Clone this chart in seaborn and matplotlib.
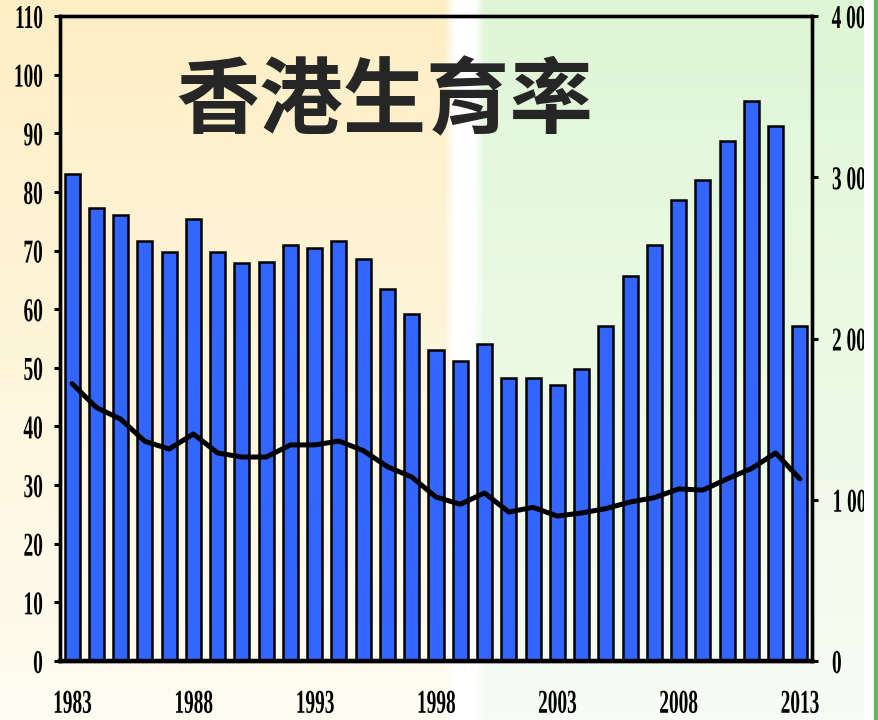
import numpy as np
import pandas as pd
import seaborn as sns
import matplotlib.pyplot as plt
from matplotlib import patheffects as pe
from matplotlib.patches import Rectangle
from matplotlib.transforms import Affine2D

# ---------------------------------------------------------------------------
# Data: Hong Kong live births (thousands, left axis) and total fertility rate
# (per 1 000 women, right axis), 1983-2013
# ---------------------------------------------------------------------------
years = [str(y) for y in range(1983, 2014)]
births = [83.0, 77.3, 76.1, 71.6, 69.8, 75.4, 69.7, 67.8, 68.0, 71.0,
          70.5, 71.6, 68.6, 63.5, 59.2, 53.0, 51.2, 54.1, 48.3, 48.3,
          47.1, 49.8, 57.2, 65.6, 71.0, 78.7, 82.0, 88.6, 95.5, 91.3,
          57.2]
tfr = [1720, 1572, 1500, 1362, 1315, 1408, 1290, 1265, 1265, 1340,
       1340, 1364, 1305, 1205, 1141, 1017, 972, 1042, 924, 953,
       899, 918, 945, 986, 1013, 1067, 1060, 1129, 1193, 1290,
       1129]
left_ticks = list(range(0, 111, 10))
right_ticks = [0, 1000, 2000, 3000, 4000]
right_labels = ["0", "1 000", "2 000", "3 000", "4 000"]
year_ticks = [0, 5, 10, 15, 20, 25, 30]
title = "香港生育率"

df = pd.DataFrame({"year": years, "births": births, "tfr": tfr})


# condensed look of the original tick font: squeeze glyphs horizontally
class Squeeze(pe.AbstractPathEffect):
    def __init__(self, sx=0.58, anchor="center"):
        super().__init__()
        self.sx = sx
        self.anchor = anchor

    def draw_path(self, renderer, gc, tpath, affine, rgbFace=None):
        bb = tpath.get_extents(affine)
        x0 = {"left": bb.x0, "right": bb.x1, "center": 0.5 * (bb.x0 + bb.x1)}[self.anchor]
        t = affine + Affine2D().translate(-x0, 0).scale(self.sx, 1).translate(x0, 0)
        renderer.draw_path(gc, tpath, t, rgbFace)


sns.set_style("ticks")
plt.rcParams["font.family"] = ["Liberation Serif", "DejaVu Serif"]
plt.rcParams["font.weight"] = "bold"

fig = plt.figure(figsize=(8.79, 7.2), dpi=100)

# ---------------------------------------------------------------------------
# Slide-like background: warm yellow on the left, pale green on the right
# ---------------------------------------------------------------------------
H, W = 720, 879
yy = np.linspace(0, 1, H)[:, None, None]
xx = np.arange(W)[None, :, None]
lt, lb = np.array([253, 238, 196]) / 255, np.array([255, 253, 242]) / 255
rt, rb = np.array([223, 246, 213]) / 255, np.array([247, 253, 244]) / 255
left_c = lt * (1 - yy) + lb * yy
right_c = rt * (1 - yy) + rb * yy
img = np.where(xx < 464, left_c, right_c)
band = np.clip(1 - (np.abs(xx - 464) - 10) / 10, 0, 1)
img = img * (1 - band) + band
img = np.broadcast_to(img, (H, W, 3)).copy()
bg = fig.add_axes([0, 0, 1, 1], zorder=-1)
bg.imshow(img, aspect="auto")
bg.axis("off")

# ---------------------------------------------------------------------------
# Bars (births) + line (fertility rate)
# ---------------------------------------------------------------------------
ax = fig.add_axes([60 / 879, 1 - 661 / 720, 752 / 879, 645 / 720])
ax.set_facecolor("none")
sns.barplot(data=df, x="year", y="births", color="#3366FF", saturation=1,
            edgecolor="black", linewidth=1.8, width=0.62, ax=ax)
ax.set_ylim(0, 110)
ax.set_xlim(-0.5, len(years) - 0.5)
ax.set_yticks(left_ticks)
ax.set_xticks(year_ticks)
ax.set_xticklabels([years[i] for i in year_ticks])
ax.set_xlabel("")
ax.set_ylabel("")

ax2 = ax.twinx()
sns.lineplot(data=df, x="year", y="tfr", color="black", linewidth=3.6,
             sort=False, ax=ax2)
ax2.set_ylim(0, 4000)
ax2.set_yticks(right_ticks)
ax2.set_yticklabels(right_labels)
ax2.set_ylabel("")
ax2.set_xlim(-0.5, len(years) - 0.5)

for a in (ax, ax2):
    for s in a.spines.values():
        s.set_visible(True)
        s.set_color("black")
        s.set_linewidth(2.4)
ax.spines["bottom"].set_linewidth(3.2)

ax.tick_params(axis="y", length=4, width=2.2, pad=8, labelsize=24, colors="black")
ax.tick_params(axis="x", length=0, pad=20, labelsize=24, colors="black")
ax2.tick_params(axis="y", length=4, width=2.2, pad=10, labelsize=24, colors="black")

for lab in ax.get_yticklabels():
    lab.set_path_effects([Squeeze(0.58, "right")])
for lab in ax.get_xticklabels():
    lab.set_path_effects([Squeeze(0.58, "center")])
for lab in ax2.get_yticklabels():
    lab.set_path_effects([Squeeze(0.58, "left")])

fig.text(385 / 879, 1 - 103 / 720, title, ha="center", va="center",
         fontsize=60, fontweight="bold",
         family=["Noto Sans CJK TC", "DejaVu Sans"])

# white strip and green frame line at the right edge of the slide
fig.patches.append(Rectangle((864 / 879, 0), 10 / 879, 1, transform=fig.transFigure,
                             facecolor="white", edgecolor="none", zorder=10))
fig.patches.append(Rectangle((874 / 879, 0), 5 / 879, 1, transform=fig.transFigure,
                             facecolor="#5CB85C", edgecolor="none", zorder=10))

fig.savefig("out.png", dpi=100)
